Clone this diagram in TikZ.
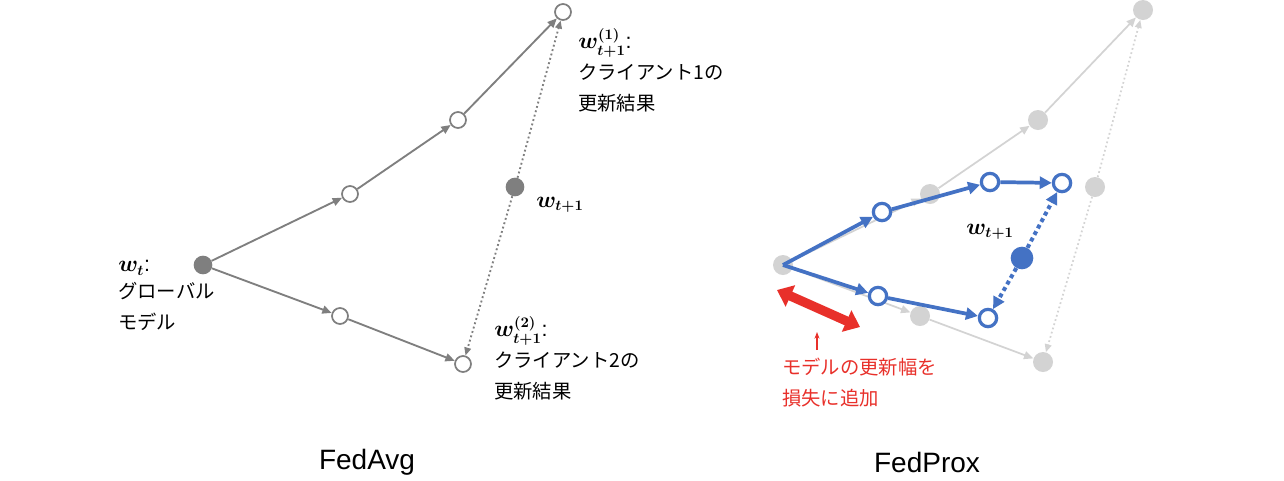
\documentclass[tikz,border=0pt]{standalone}
\usepackage{fontspec}
\setmainfont{Liberation Sans}
\newfontfamily\jp{Noto Sans CJK JP}
\usetikzlibrary{arrows.meta}
\definecolor{dg}{HTML}{7F7F7F}
\definecolor{lg}{HTML}{D3D3D3}
\definecolor{bl}{HTML}{4472C4}
\definecolor{rd}{HTML}{E8302A}
\begin{document}
\begin{tikzpicture}[x=0.75pt,y=-0.75pt,
 op/.style={circle,draw=dg,fill=white,line width=1.3pt,minimum size=12pt,inner sep=0pt},
 fp/.style={circle,fill=dg,minimum size=14pt,inner sep=0pt},
 lp/.style={circle,fill=lg,minimum size=15pt,inner sep=0pt},
 bo/.style={circle,draw=bl,fill=white,line width=2.4pt,minimum size=13pt,inner sep=0pt},
 bf/.style={circle,fill=bl,minimum size=17pt,inner sep=0pt},
 ga/.style={draw=dg,line width=1.4pt,-{Triangle[length=7pt,width=6pt]}},
 gd/.style={draw=dg,line width=1.4pt,dotted,-{Triangle[length=6pt,width=5pt]}},
 la/.style={draw=lg,line width=1.3pt,-{Triangle[length=7pt,width=6pt]}},
 ld/.style={draw=lg,line width=1.3pt,dotted,-{Triangle[length=6pt,width=5pt]}},
 ba/.style={draw=bl,line width=2.8pt,-{Triangle[length=9pt,width=9pt]}},
 bd/.style={draw=bl,line width=3pt,dash pattern=on 3pt off 2.5pt,-{Triangle[length=9pt,width=9pt]}},
 jt/.style={font=\jp\fontsize{14.5}{23}\selectfont,align=left,inner sep=0pt,anchor=north west},
 mt/.style={font=\fontsize{16}{18}\selectfont\boldmath,inner sep=0pt}]
\useasboundingbox (0,0) rectangle (1284,480);
% FedAvg
\node[fp] (a0) at (203,265) {};
\node[op] (a1) at (350,194) {};
\node[op] (a2) at (458,120) {};
\node[op] (a3) at (563,12) {};
\node[op] (b1) at (340,316) {};
\node[op] (b2) at (463,364) {};
\node[fp] (am) at (515,187) {};
\draw[ga] (a0)--(a1); \draw[ga] (a1)--(a2); \draw[ga] (a2)--(a3);
\draw[ga] (a0)--(b1); \draw[ga] (b1)--(b2);
\draw[gd] (am)--(a3); \draw[gd] (am)--(b2);
\node[mt,anchor=west] (lwt) at (118,268) {$w_t$:};
\node[jt] (lg1) at (118,282) {グローバル\\モデル};
\node[mt,anchor=west] (lm) at (536,205) {$w_{t+1}$};
\node[mt,anchor=west] (l1) at (578,43) {$w_{t+1}^{(1)}$:};
\node[jt] (lc1) at (578,64) {クライアント1の\\更新結果};
\node[mt,anchor=west] (l2) at (494,331) {$w_{t+1}^{(2)}$:};
\node[jt] (lc2) at (494,352) {クライアント2の\\更新結果};
\node[font=\fontsize{21}{24}\selectfont] (t1) at (367,462) {FedAvg};
% FedProx background
\node[lp] (c0) at (783,265) {};
\node[lp] (c1) at (930,194) {};
\node[lp] (c2) at (1038,120) {};
\node[lp] (c3) at (1143,10) {};
\node[lp] (d1) at (920,316) {};
\node[lp] (d2) at (1043,362) {};
\node[lp] (cm) at (1095,187) {};
\draw[la] (c0)--(c1); \draw[la] (c1)--(c2); \draw[la] (c2)--(c3);
\draw[la] (c0)--(d1); \draw[la] (d1)--(d2);
\draw[ld] (cm)--(c3); \draw[ld] (cm)--(d2);
% blue
\node[bo] (e1) at (882,212) {};
\node[bo] (e2) at (990,182) {};
\node[bo] (e3) at (1062,183) {};
\node[bo] (f1) at (878,296) {};
\node[bo] (f2) at (988,318) {};
\node[bf] (em) at (1022,258) {};
\draw[ba] (c0.center)--(e1); \draw[ba] (e1)--(e2); \draw[ba] (e2)--(e3);
\draw[ba] (c0.center)--(f1); \draw[ba] (f1)--(f2);
\draw[bd] (em)--(e3); \draw[bd] (em)--(f2);
\node[mt,anchor=west] (rm) at (966,232) {$w_{t+1}$};
% red
\coordinate (r1) at (777,290);
\coordinate (r2) at (860,327);
\draw[rd,line width=7pt,{Triangle[length=11pt,width=17pt]}-{Triangle[length=11pt,width=17pt]}] (r1)--(r2);
\coordinate (s1) at (817,350);
\coordinate (s2) at (817,332);
\draw[rd,line width=0.8pt,-{Stealth[length=5pt]}] (s1)--(s2);
\node[jt,text=rd] (rt) at (782,358) {モデルの更新幅を\\損失に追加};
\node[font=\fontsize{21}{24}\selectfont] (t2) at (927,462) {FedProx};
\end{tikzpicture}
\end{document}
